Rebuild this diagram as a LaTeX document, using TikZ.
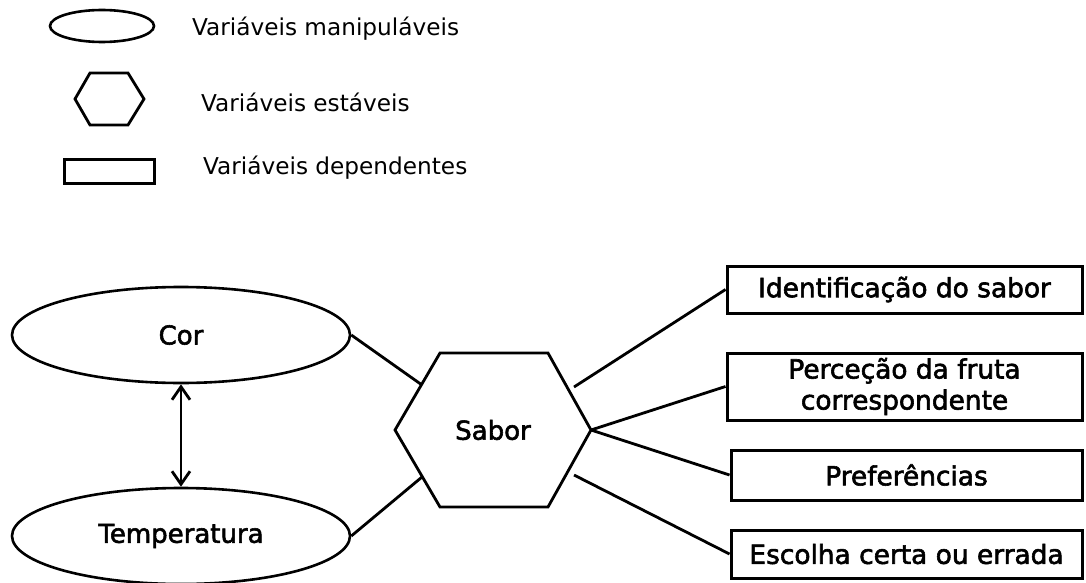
\documentclass[tikz,border=0pt]{standalone}
\usepackage{fontspec}
\setmainfont{DejaVu Sans}
\newfontfamily\labelfont[FakeBold=2.2]{DejaVu Sans}
\usetikzlibrary{shapes.geometric, arrows.meta}

\tikzset{
    manipvar/.style={draw, ellipse, line width=1.3pt, inner sep=0pt},
    depvar/.style={draw, rectangle, line width=1.5pt, inner sep=0pt, align=center, font=\labelfont\fontsize{13.2}{15.5}\selectfont},
    legendtext/.style={anchor=west, font=\fontsize{11.6}{14}\selectfont},
    maintext/.style={font=\labelfont\fontsize{13}{15.5}\selectfont},
    link/.style={line width=1.4pt},
}

\begin{document}
\begin{tikzpicture}[x=0.5pt, y=-0.5pt]
    \useasboundingbox (0, 0) rectangle (1086, 583);

    % Legend
    \begin{scope}
        % Ellipse for the manipulated variables
        \node[manipvar, minimum width=52pt, minimum height=16pt] (legmanip) at (102, 26) {};
        \node[legendtext] (legmaniptext) at (185, 29) {Variáveis manipuláveis};

        % Hexagon for the stable variables
        \draw[link] (75, 99) -- (90, 73) -- (128, 73) -- (144, 99) -- (128, 125) -- (90, 125) -- cycle;
        \node[legendtext] (legesttext) at (194, 102) {Variáveis estáveis};

        % Box for the dependent variables
        \node[depvar, minimum width=45pt, minimum height=12pt] (legdep) at (109, 171) {};
        \node[legendtext] (legdeptext) at (196, 168) {Variáveis dependentes};
    \end{scope}

    % Diagram
    \begin{scope}
        % Manipulated variables
        \node[manipvar, maintext, minimum width=169pt, minimum height=48pt] (cor) at (181, 335) {Cor};
        \node[manipvar, maintext, minimum width=169pt, minimum height=48pt] (temp) at (181, 536) {Temperatura};
        \draw[link, {Straight Barb[length=6.5pt, width=9pt]}-{Straight Barb[length=6.5pt, width=9pt]}] (cor) -- (temp);

        % Stable variable: hexagon and its text
        \node[maintext] (sabor) at (493, 430) {Sabor};
        \coordinate (hexW) at (395, 430);
        \coordinate (hexNW) at (440, 353);
        \coordinate (hexNE) at (548, 353);
        \coordinate (hexE) at (591, 430);
        \coordinate (hexSE) at (548, 507);
        \coordinate (hexSW) at (440, 507);
        \draw[link] (hexW) -- (hexNW) -- (hexNE) -- (hexE) -- (hexSE) -- (hexSW) -- cycle;

        % Ends of the lines near the hexagon
        \coordinate (hexcor) at (422, 385);
        \coordinate (hextemp) at (422, 477);
        \coordinate (hexident) at (574, 387);
        \coordinate (hexescolha) at (574, 475);

        % Dependent variables
        \node[depvar, minimum width=177.5pt, minimum height=23.5pt] (ident) at (904.5, 289.5) {Identificação do sabor};
        \node[depvar, minimum width=177.5pt, minimum height=33.5pt] (percep) at (904.5, 386.5) {Perceção da fruta\\correspondente};
        \node[depvar, minimum width=175.5pt, minimum height=25pt] (pref) at (906.5, 475) {Preferências};
        \node[depvar, minimum width=175.5pt, minimum height=24pt] (escolha) at (906.5, 554) {Escolha certa ou errada};

        % Lines
        \draw[link] (cor.east) -- (hexcor);
        \draw[link] (temp.east) -- (hextemp);
        \draw[link] (hexident) -- (ident.west);
        \draw[link] (hexE) -- (percep.west);
        \draw[link] (hexE) -- (pref.west);
        \draw[link] (hexescolha) -- (escolha.west);
    \end{scope}
\end{tikzpicture}
\end{document}
